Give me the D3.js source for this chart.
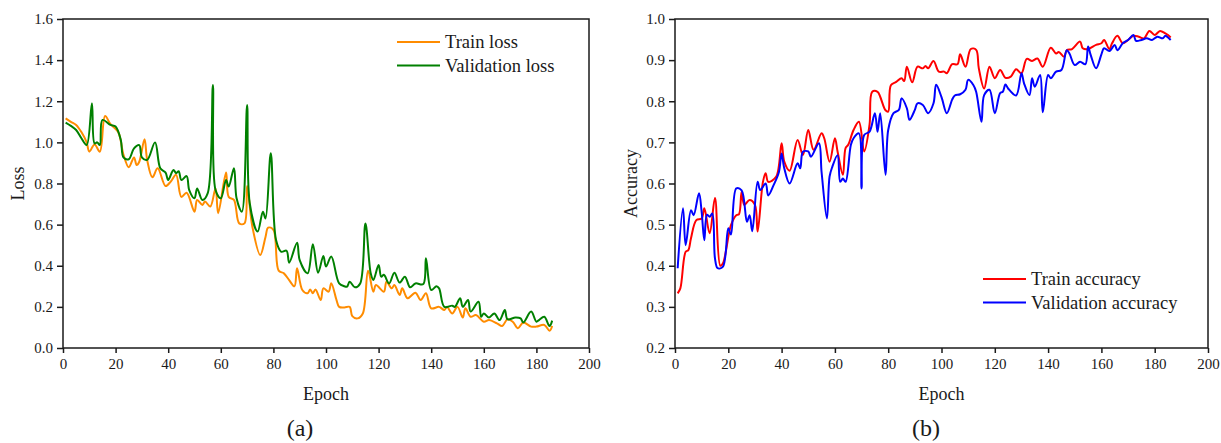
<!DOCTYPE html>
<html>
<head>
<meta charset="utf-8">
<script src="https://cdn.jsdelivr.net/npm/d3@7"></script>
<style>
  body { margin: 0; background: #fff; }
  text { font-family: "Liberation Serif", "Times New Roman", serif; fill: #1a1a1a; }
</style>
</head>
<body>
<div class="canvas"></div>
<script>
// data: [epoch, value]
const trainLoss = [[1,1.117],[3,1.10],[5,1.085],[7,1.05],[9,1.00],[10,0.955],[12,0.99],[14,0.955],[16,1.128],[18,1.09],[21,1.05],[23,0.94],[25,0.879],[27,0.927],[28,0.89],[29,0.906],[31,1.015],[32,0.915],[34,0.83],[36,0.874],[39,0.788],[41,0.81],[43,0.842],[45,0.735],[47,0.755],[50,0.663],[51,0.72],[53,0.696],[54,0.712],[56,0.688],[58,0.776],[59,0.655],[62,0.853],[63,0.735],[65,0.72],[67,0.606],[69,0.606],[70,0.788],[72,0.59],[75,0.452],[77,0.54],[78,0.585],[80,0.575],[82,0.376],[84,0.363],[86,0.33],[88,0.30],[89,0.388],[91,0.282],[93,0.266],[94,0.285],[95,0.266],[96,0.285],[98,0.233],[99,0.29],[101,0.274],[102,0.315],[104,0.233],[105,0.2],[107,0.197],[109,0.2],[110,0.155],[112,0.144],[114,0.168],[116,0.376],[118,0.274],[119,0.306],[122,0.274],[123,0.322],[125,0.29],[126,0.306],[128,0.258],[129,0.29],[131,0.242],[134,0.269],[136,0.233],[138,0.266],[140,0.193],[143,0.2],[145,0.185],[146,0.2],[148,0.168],[150,0.2],[152,0.148],[153,0.193],[155,0.152],[157,0.16],[160,0.128],[162,0.136],[165,0.12],[167,0.107],[169,0.14],[171,0.128],[173,0.096],[175,0.124],[178,0.104],[180,0.104],[183,0.112],[185,0.084],[186,0.107]];

const valLoss = [[1,1.096],[3,1.08],[5,1.06],[7,1.02],[9,0.987],[11,1.19],[12,0.995],[13,1.0],[14,0.987],[15,1.109],[18,1.085],[20,1.077],[22,1.01],[23,0.927],[25,0.918],[27,0.971],[29,0.987],[30,0.927],[32,0.915],[35,1.0],[37,0.874],[39,0.853],[40,0.817],[42,0.866],[43,0.85],[44,0.86],[45,0.817],[47,0.836],[48,0.768],[50,0.728],[51,0.776],[53,0.72],[55,0.752],[57,1.279],[58,0.768],[60,0.728],[62,0.817],[63,0.785],[65,0.874],[66,0.728],[68,0.663],[70,1.182],[71,0.704],[74,0.566],[76,0.663],[77,0.63],[79,0.947],[81,0.525],[83,0.468],[85,0.473],[86,0.415],[89,0.512],[90,0.427],[93,0.363],[95,0.505],[97,0.366],[99,0.448],[100,0.396],[102,0.445],[105,0.314],[107,0.30],[108,0.298],[109,0.322],[111,0.295],[113,0.314],[115,0.606],[117,0.363],[118,0.331],[120,0.404],[121,0.347],[122,0.356],[124,0.314],[126,0.366],[128,0.318],[130,0.347],[132,0.295],[134,0.314],[137,0.311],[138,0.436],[140,0.282],[142,0.30],[143,0.29],[145,0.2],[148,0.206],[149,0.2],[151,0.242],[152,0.2],[154,0.233],[155,0.177],[158,0.225],[159,0.152],[160,0.168],[162,0.148],[164,0.168],[166,0.136],[168,0.185],[169,0.14],[172,0.148],[174,0.144],[175,0.124],[178,0.177],[180,0.128],[181,0.136],[183,0.152],[185,0.107],[186,0.133]];

const trainAcc = [[1,0.333],[2,0.345],[4,0.434],[5,0.438],[6,0.467],[8,0.511],[10,0.515],[11,0.54],[13,0.479],[15,0.565],[17,0.40],[18,0.406],[21,0.499],[23,0.523],[24,0.525],[25,0.58],[26,0.548],[28,0.56],[30,0.548],[31,0.483],[33,0.604],[34,0.625],[35,0.604],[38,0.617],[40,0.698],[41,0.653],[43,0.631],[46,0.706],[48,0.669],[50,0.73],[52,0.682],[55,0.722],[56,0.71],[58,0.653],[60,0.71],[61,0.678],[63,0.621],[64,0.686],[65,0.694],[67,0.73],[69,0.75],[71,0.678],[73,0.743],[74,0.823],[76,0.823],[77,0.811],[79,0.778],[80,0.775],[81,0.839],[83,0.847],[85,0.856],[86,0.849],[87,0.884],[89,0.846],[91,0.884],[93,0.88],[94,0.886],[95,0.88],[97,0.898],[99,0.872],[101,0.872],[102,0.868],[104,0.89],[106,0.89],[107,0.914],[109,0.884],[111,0.927],[113,0.925],[114,0.88],[116,0.831],[118,0.884],[120,0.856],[122,0.876],[124,0.857],[126,0.86],[128,0.878],[130,0.868],[132,0.903],[134,0.898],[136,0.904],[138,0.884],[141,0.93],[143,0.916],[144,0.92],[146,0.908],[147,0.924],[149,0.927],[152,0.945],[153,0.929],[155,0.927],[158,0.937],[160,0.941],[161,0.949],[163,0.927],[164,0.941],[166,0.959],[168,0.941],[170,0.949],[172,0.959],[174,0.957],[176,0.953],[178,0.971],[180,0.961],[182,0.971],[184,0.965],[185,0.961],[186,0.955]];

const valAcc = [[1,0.394],[3,0.54],[4,0.45],[6,0.535],[7,0.523],[9,0.576],[10,0.531],[11,0.462],[12,0.524],[13,0.519],[14,0.527],[15,0.418],[16,0.394],[18,0.398],[20,0.491],[21,0.476],[23,0.588],[25,0.583],[27,0.507],[28,0.523],[29,0.484],[31,0.604],[32,0.584],[34,0.6],[35,0.571],[37,0.596],[39,0.628],[40,0.673],[41,0.637],[43,0.6],[46,0.649],[47,0.637],[48,0.677],[50,0.678],[51,0.665],[54,0.698],[55,0.628],[57,0.515],[58,0.617],[59,0.64],[61,0.669],[62,0.604],[63,0.612],[64,0.604],[66,0.694],[67,0.71],[69,0.722],[70,0.588],[71,0.718],[73,0.726],[75,0.771],[76,0.726],[77,0.771],[79,0.621],[80,0.73],[82,0.771],[84,0.779],[85,0.807],[87,0.783],[88,0.755],[90,0.779],[91,0.795],[93,0.791],[95,0.771],[97,0.795],[98,0.84],[100,0.81],[102,0.771],[104,0.804],[105,0.814],[107,0.817],[109,0.828],[110,0.852],[112,0.839],[113,0.823],[115,0.75],[116,0.815],[118,0.828],[120,0.771],[122,0.82],[123,0.823],[124,0.841],[125,0.831],[128,0.814],[130,0.868],[131,0.843],[133,0.815],[134,0.856],[135,0.835],[137,0.864],[138,0.773],[140,0.864],[141,0.856],[143,0.872],[145,0.876],[147,0.924],[148,0.916],[150,0.888],[152,0.896],[154,0.89],[155,0.933],[156,0.912],[158,0.88],[160,0.914],[161,0.929],[163,0.922],[165,0.937],[166,0.924],[168,0.941],[170,0.949],[172,0.961],[173,0.947],[175,0.949],[177,0.953],[179,0.949],[181,0.957],[183,0.953],[184,0.959],[185,0.955],[186,0.949]];

const epochTicks = [0, 20, 40, 60, 80, 100, 120, 140, 160, 180, 200];
const lossTicks = [0, 0.2, 0.4, 0.6, 0.8, 1.0, 1.2, 1.4, 1.6];
const accTicks = [0.2, 0.3, 0.4, 0.5, 0.6, 0.7, 0.8, 0.9, 1.0];

const W = 1221, H = 443;
const svg = d3.select(".canvas").append("svg")
    .attr("width", W)
    .attr("height", H);

function drawPanel(p) {
  const g = svg.append("g").attr("transform", `translate(${p.left},${p.top})`);

  const x = d3.scaleLinear().domain([0, 200]).range([0, p.width]);
  const y = d3.scaleLinear().domain(p.yDomain).range([p.height, 0]);

  // x axis
  const xa = g.append("g")
      .attr("transform", `translate(0,${p.height})`)
      .call(d3.axisBottom(x).tickValues(epochTicks).tickSize(5).tickPadding(5).tickFormat(d3.format("d")));
  // y axis
  const ya = g.append("g")
      .call(d3.axisLeft(y).tickValues(p.yTicks).tickSize(6).tickPadding(4).tickFormat(d3.format(".1f")));

  [xa, ya].forEach(a => {
    a.select(".domain").remove();
    a.selectAll("line").attr("stroke", "#1a1a1a").attr("stroke-width", 1.5);
    a.selectAll("text").style("font-size", "15px").style("font-family", "Liberation Serif").attr("fill", "#1a1a1a");
  });

  // frame
  g.append("rect")
      .attr("width", p.width).attr("height", p.height)
      .attr("fill", "none").attr("stroke", "#1a1a1a").attr("stroke-width", 1.5);

  // smooth spline through the read points
  const line = d3.line()
      .x(d => x(d[0]))
      .y(d => y(d[1]))
      .curve(d3.curveCatmullRom.alpha(0.5));

  p.series.forEach(s => {
    g.append("path")
        .datum(s.data)
        .attr("fill", "none")
        .attr("stroke", s.color)
        .attr("stroke-width", 2)
        .attr("stroke-linejoin", "round")
        .attr("d", line);
  });

  // legend
  p.series.forEach((s, i) => {
    const ly = p.legendY + i * 23.5;
    g.append("line")
        .attr("x1", p.legendX).attr("x2", p.legendX + 43)
        .attr("y1", ly).attr("y2", ly)
        .attr("stroke", s.color).attr("stroke-width", 2);
    g.append("text")
        .attr("x", p.legendX + 48).attr("y", ly + 6)
        .style("font-size", "18.5px")
        .text(s.name);
  });

  // axis titles
  g.append("text")
      .attr("text-anchor", "middle")
      .attr("x", p.width / 2)
      .attr("y", p.height + 52)
      .style("font-size", "18px")
      .text("Epoch");

  g.append("text")
      .attr("text-anchor", "middle")
      .attr("transform", "rotate(-90)")
      .attr("x", -p.height / 2)
      .attr("y", p.yLabelX)
      .style("font-size", "18px")
      .text(p.yLabel);

  g.append("text")
      .attr("text-anchor", "middle")
      .attr("x", p.capX)
      .attr("y", p.height + 88)
      .style("font-size", "24px")
      .text(p.caption);
}

drawPanel({
  left: 63, top: 19, width: 526, height: 329,
  yDomain: [0, 1.6], yTicks: lossTicks, yLabel: "Loss", yLabelX: -39,
  caption: "(a)", capX: 237,
  legendX: 334, legendY: 23,
  series: [
    {name: "Train loss", data: trainLoss, color: "#ff8c00"},
    {name: "Validation loss", data: valLoss, color: "#008000"}
  ]
});

drawPanel({
  left: 675, top: 19, width: 533, height: 329,
  yDomain: [0.2, 1.0], yTicks: accTicks, yLabel: "Accuracy", yLabelX: -38,
  caption: "(b)", capX: 251,
  legendX: 308, legendY: 260,
  series: [
    {name: "Train accuracy", data: trainAcc, color: "#ff0000"},
    {name: "Validation accuracy", data: valAcc, color: "#0000ff"}
  ]
});
</script>
</body>
</html>
